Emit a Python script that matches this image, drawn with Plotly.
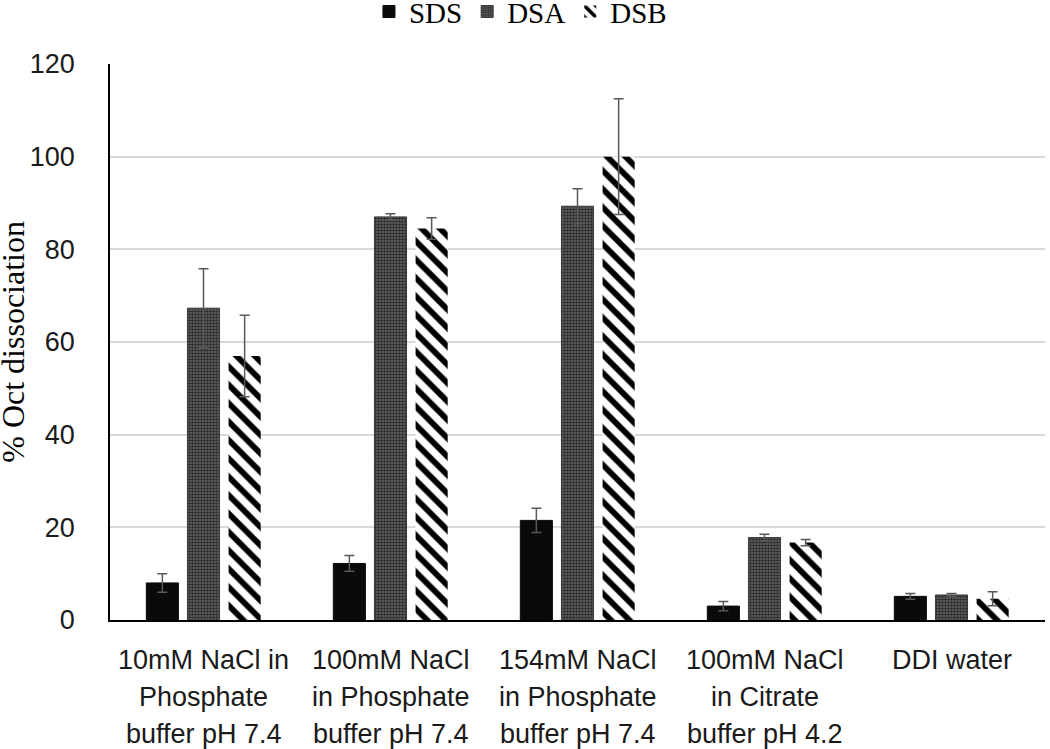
import plotly.graph_objects as go

categories = ["g1", "g2", "g3", "g4", "g5"]
tick_lines = [
    ["10mM NaCl in", "Phosphate", "buffer pH 7.4"],
    ["100mM NaCl", "in Phosphate", "buffer pH 7.4"],
    ["154mM NaCl", "in Phosphate", "buffer pH 7.4"],
    ["100mM NaCl", "in Citrate", "buffer pH 4.2"],
    ["DDI water"],
]
sds = [8.0, 12.2, 21.5, 3.0, 5.1]
sds_err = [2.0, 1.7, 2.6, 1.0, 0.6]
dsa = [67.3, 87.0, 89.3, 17.8, 5.4]
dsa_err = [8.5, 0.7, 3.8, 0.7, 0.3]
dsb = [57.0, 84.5, 100.0, 16.7, 4.6]
dsb_err = [8.8, 2.3, 12.5, 0.7, 1.5]
y_ticks = [0, 20, 40, 60, 80, 100, 120]
y_title = "% Oct dissociation"

err_style = dict(type="data", color="#595959", thickness=1.5, width=5)

fig = go.Figure()
fig.add_bar(x=categories, y=sds, name="SDS",
            marker=dict(color="#0a0a0a", line=dict(color="#0a0a0a", width=1)),
            error_y=dict(array=sds_err, **err_style))
fig.add_bar(x=categories, y=dsa, name="DSA",
            marker=dict(color="#5a5a5a", line=dict(color="#3a3a3a", width=1),
                        pattern=dict(shape=".", fgcolor="#2a2a2a", bgcolor="#6a6a6a",
                                     size=3, solidity=0.6, fgopacity=1)),
            error_y=dict(array=dsa_err, **err_style))
fig.add_bar(x=categories, y=dsb, name="DSB",
            marker=dict(color="white", line=dict(color="white", width=0),
                        pattern=dict(shape="\\", fgcolor="black", bgcolor="white",
                                     size=13, solidity=0.45, fgopacity=1)),
            error_y=dict(array=dsb_err, **err_style))

annotations = []
for cat, lines in zip(categories, tick_lines):
    for i, line in enumerate(lines):
        annotations.append(dict(
            x=cat, xref="x", y=0, yref="paper", yanchor="middle",
            yshift=-40 - 37 * i, text=line, showarrow=False,
            font=dict(family="Liberation Sans, Arial, sans-serif", size=27, color="#1a1a1a")))
annotations.append(dict(
    x=-0.104, xref="paper", y=0.5, yref="paper", xanchor="center", yanchor="middle",
    text=y_title, textangle=-90, showarrow=False,
    font=dict(family="Liberation Serif, Times New Roman, serif", size=32, color="black")))

fig.update_layout(
    width=1050, height=749,
    margin=dict(l=110, r=5, t=64, b=129, autoexpand=False),
    paper_bgcolor="white", plot_bgcolor="white",
    barmode="group", bargap=0.34, bargroupgap=0.22,
    showlegend=True,
    legend=dict(orientation="h", x=0.439, xanchor="center", y=1.14, yref="paper",
                yanchor="top", font=dict(family="Liberation Serif, Times New Roman, serif",
                                          size=29, color="black"),
                itemwidth=30, traceorder="normal", tracegroupgap=0,
                bgcolor="rgba(0,0,0,0)"),
    annotations=annotations,
)
fig.update_xaxes(showticklabels=False, showline=True, linecolor="black", linewidth=1.5,
                 showgrid=False, ticks="", automargin=False)
fig.update_yaxes(range=[0, 120], tickvals=y_ticks, showline=True, linecolor="black",
                 linewidth=1.5, showgrid=True, gridcolor="#d9d9d9", gridwidth=1.5,
                 ticks="outside", ticklen=0, ticklabelstandoff=28, automargin=False,
                 tickfont=dict(family="Liberation Sans, Arial, sans-serif", size=27, color="#1a1a1a"),
                 zeroline=False)

fig.write_html("out.html", config={"displayModeBar": False},
               post_script="document.body.style.margin='0';document.body.style.overflow='hidden';")
